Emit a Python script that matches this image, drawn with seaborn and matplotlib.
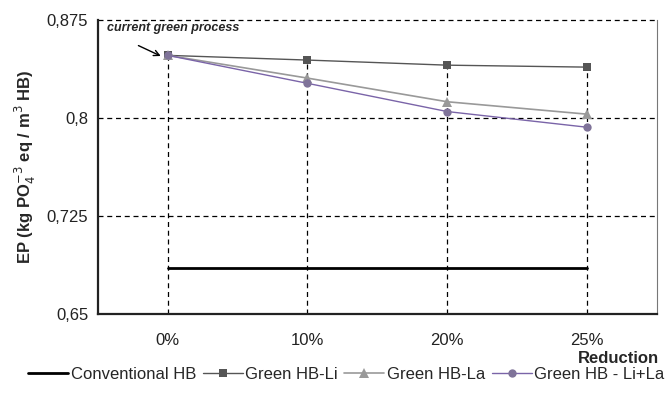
import matplotlib
matplotlib.use("Agg")
import matplotlib.pyplot as plt
import pandas as pd
import seaborn as sns

# values
categories = ["0%", "10%", "20%", "25%"]
conventional_hb = [0.685, 0.685, 0.685, 0.685]
green_li = [0.848, 0.8444, 0.8405, 0.839]
green_la = [0.848, 0.8306, 0.8125, 0.803]
green_lila = [0.848, 0.8266, 0.805, 0.793]
y_ticks = [0.65, 0.725, 0.8, 0.875]
y_tick_labels = ["0,65", "0,725", "0,8", "0,875"]

sns.set_style("white")
plt.rcParams['font.family'] = ['Liberation Sans', 'DejaVu Sans']

pos = [i + 0.5 for i in range(len(categories))]
df = pd.DataFrame({"x": pos, "conv": conventional_hb, "li": green_li,
                   "la": green_la, "lila": green_lila})

fig = plt.figure(figsize=(6.66, 3.94), dpi=100)
ax = fig.add_axes([0.147, 0.203, 0.839, 0.746])

# dashed grid and drop lines
for yv in y_ticks[1:]:
    ax.axhline(yv, color="black", lw=0.9, ls=(0, (4, 3)), zorder=1, clip_on=False)
ax.vlines(pos, 0.65, green_li, color="black", lw=0.9, ls=(0, (4, 3)), zorder=1)

sns.lineplot(data=df, x="x", y="conv", color="black", lw=2.0,
             label="Conventional HB", ax=ax, zorder=3)
sns.lineplot(data=df, x="x", y="li", color="#555555", lw=1.0, marker="s",
             markersize=6, markeredgewidth=0, label="Green HB-Li", ax=ax, zorder=4)
sns.lineplot(data=df, x="x", y="la", color="#999999", lw=1.2, marker="^",
             markersize=7, markeredgewidth=0, label="Green HB-La", ax=ax, zorder=4)
sns.lineplot(data=df, x="x", y="lila", color="#7a64a8", lw=1.0, marker="o",
             markersize=6, markerfacecolor="#7f7399", markeredgewidth=0,
             label="Green HB - Li+La", ax=ax, zorder=5)

ax.set_xlim(0, 4)
ax.set_ylim(0.65, 0.875)
ax.set_xticks(pos)
ax.set_xticklabels(categories, fontsize=12, color="#222222")
ax.set_yticks(y_ticks)
ax.set_yticklabels(y_tick_labels, fontsize=12, color="#222222")
ax.tick_params(axis="y", length=4, width=1, color="black", pad=3)
ax.tick_params(axis="x", length=0, pad=14)

for side in ["left", "bottom"]:
    ax.spines[side].set_color("#222222")
    ax.spines[side].set_linewidth(1.6)
ax.spines["top"].set_visible(False)
ax.spines["right"].set_color("#777777")
ax.spines["right"].set_linewidth(0.8)

ax.set_xlabel("Reduction", fontsize=12, fontweight="bold")
ax.xaxis.set_label_coords(1.005, -0.125)
ax.xaxis.label.set_horizontalalignment("right")
ax.set_ylabel(r"EP (kg PO$_4^{-3}$ eq / m$^3$ HB)", fontsize=12, fontweight="bold")
ax.yaxis.set_label_coords(-0.107, 0.5)

ax.text(0.065, 0.869, "current green process", fontsize=9, fontweight="bold",
        style="italic", ha="left", va="center")
ax.annotate("", xy=(pos[0] - 0.05, green_li[0] - 0.0005), xytext=(0.29, 0.8555),
            arrowprops=dict(arrowstyle="->", color="black", lw=1.0,
                            shrinkA=0, shrinkB=0))

handles, labels = ax.get_legend_handles_labels()
ax.get_legend().remove()
fig.legend(handles, labels, loc="center", bbox_to_anchor=(0.52, 0.05),
           ncol=4, frameon=False, fontsize=12, handlelength=2.4,
           handletextpad=0.15, columnspacing=0.4, borderaxespad=0.0)

fig.savefig("out.png", dpi=100)
